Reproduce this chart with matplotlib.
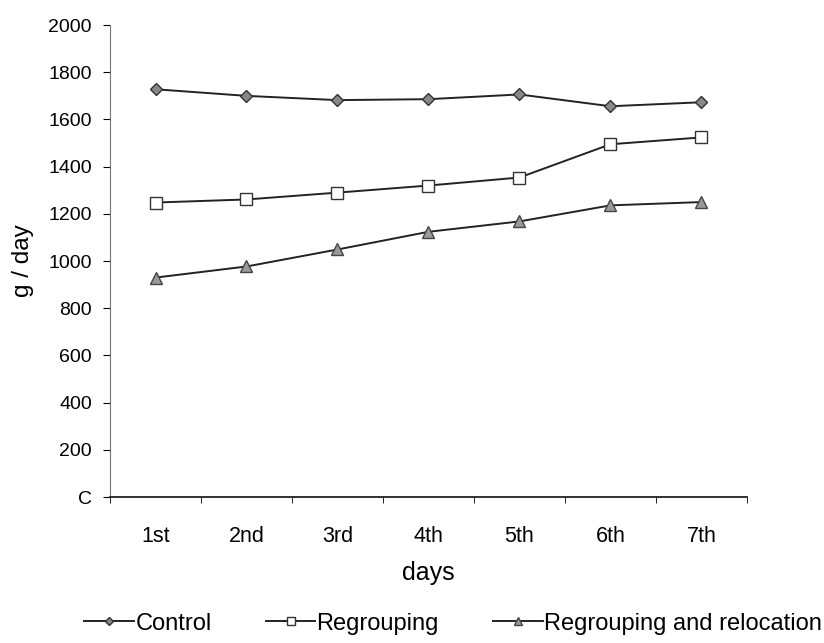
import matplotlib.pyplot as plt
import numpy as np

plt.rcParams['font.family'] = ['Liberation Sans', 'DejaVu Sans']

days = ['1st', '2nd', '3rd', '4th', '5th', '6th', '7th']
control = [1728, 1700, 1682, 1686, 1706, 1656, 1673]
regrouping = [1248, 1261, 1290, 1320, 1354, 1495, 1524]
regroup_reloc = [930, 977, 1049, 1124, 1168, 1236, 1250]
yticks = [0, 200, 400, 600, 800, 1000, 1200, 1400, 1600, 1800, 2000]
ytick_labels = ['C', '200', '400', '600', '800', '1000', '1200', '1400', '1600', '1800', '2000']

fig = plt.figure(figsize=(8.24, 6.43), dpi=100)
ax = fig.add_axes([0.1335, 0.227, 0.773, 0.734])

x = np.arange(1, len(days) + 1)
ax.plot(x, control, color='#222222', lw=1.4, marker='D', ms=6,
        mfc='#888888', mec='#333333', label='Control')
ax.plot(x, regrouping, color='#222222', lw=1.4, marker='s', ms=9,
        mfc='white', mec='#333333', label='Regrouping')
ax.plot(x, regroup_reloc, color='#222222', lw=1.4, marker='^', ms=8,
        mfc='#999999', mec='#444444', label='Regrouping and relocation')

ax.set_xlim(0.5, len(days) + 0.5)
ax.set_ylim(0, 2000)
ax.set_yticks(yticks)
ax.set_yticklabels(ytick_labels)
ax.set_xticks(x)
ax.set_xticklabels(days)
ax.set_xticks(np.arange(0.5, len(days) + 1, 1), minor=True)
ax.tick_params(axis='x', which='major', length=0, pad=21, labelsize=15.5)
ax.tick_params(axis='x', which='minor', length=4, direction='out')
ax.tick_params(axis='y', length=5, direction='out', labelsize=14, pad=8)

for s in ['top', 'right']:
    ax.spines[s].set_visible(False)
ax.spines['left'].set_color('#777777')
ax.spines['left'].set_linewidth(0.8)
ax.spines['bottom'].set_color('#222222')
ax.spines['bottom'].set_linewidth(1.3)

ax.set_xlabel('days', fontsize=18, labelpad=10)
ax.set_ylabel('g / day', fontsize=17.5, labelpad=10)

fig.legend(loc='lower center', bbox_to_anchor=(0.55, -0.02), ncol=3, frameon=False,
           fontsize=17, handlelength=2.1, handletextpad=0.05, columnspacing=2.3,
           markerscale=0.65)

fig.savefig('out.png', dpi=100)
